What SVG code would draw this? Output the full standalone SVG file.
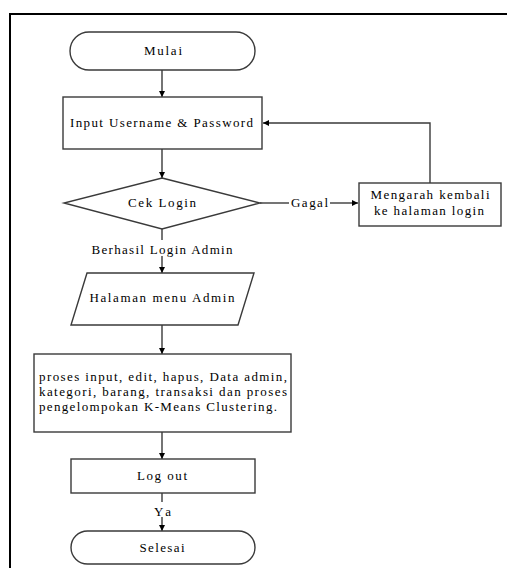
<svg xmlns="http://www.w3.org/2000/svg" width="507" height="568" viewBox="0 0 507 568">
<style>
.s{fill:#fff;stroke:#3a3a3a;stroke-width:1.4}
.c{fill:none;stroke:#3a3a3a;stroke-width:1.4}
text{font-family:"Liberation Serif","Times New Roman",serif;font-size:13px;fill:#000}
.m{text-anchor:middle}
</style>
<defs>
<marker id="ah" markerWidth="6" markerHeight="6" refX="6" refY="3" orient="auto" markerUnits="userSpaceOnUse">
<path d="M0,0 L6,3 L0,6 Z" fill="#000"/>
</marker>
</defs>
<rect width="507" height="568" fill="#fff"/>
<rect x="10" y="14" width="520" height="600" fill="none" stroke="#000" stroke-width="2"/>
<g id="connectors">
<path class="c" d="M162,70 V97" marker-end="url(#ah)"/>
<path class="c" d="M162,149 V178" marker-end="url(#ah)"/>
<path class="c" d="M260,203 H289"/>
<path class="c" d="M330,203 H358" marker-end="url(#ah)"/>
<path class="c" d="M430,183 V123 H263" marker-end="url(#ah)"/>
<path class="c" d="M162,229 V240"/>
<path class="c" d="M162,256 V273" marker-end="url(#ah)"/>
<path class="c" d="M162,325 V354" marker-end="url(#ah)"/>
<path class="c" d="M162,432 V459" marker-end="url(#ah)"/>
<path class="c" d="M162,493 V502"/>
<path class="c" d="M162,517 V531" marker-end="url(#ah)"/>
<text class="m" x="309.5" y="207" textLength="37" lengthAdjust="spacing">Gagal</text>
<text class="m" x="162" y="254" textLength="141" lengthAdjust="spacing">Berhasil Login Admin</text>
<text class="m" x="162.5" y="516" textLength="17" lengthAdjust="spacing">Ya</text>
</g>
<g id="mulai">
<rect class="s" x="70" y="32" width="185" height="38" rx="19"/>
<text class="m" x="163" y="55" textLength="38" lengthAdjust="spacing">Mulai</text>
</g>
<g id="input">
<rect class="s" x="63" y="97" width="199" height="52"/>
<text class="m" x="161.5" y="127" textLength="183" lengthAdjust="spacing">Input Username &amp; Password</text>
</g>
<g id="cek">
<polygon class="s" points="162,178 260,203 162,229 64,203"/>
<text class="m" x="162" y="207" textLength="68" lengthAdjust="spacing">Cek Login</text>
</g>
<g id="mengarah">
<rect class="s" x="359" y="183" width="142" height="43"/>
<text class="m" x="430" y="199" textLength="119" lengthAdjust="spacing">Mengarah kembali</text>
<text class="m" x="429" y="215" textLength="110" lengthAdjust="spacing">ke halaman login</text>
</g>
<g id="menu">
<polygon class="s" points="87,273 254,273 238,325 71,325"/>
<text class="m" x="162" y="302" textLength="145" lengthAdjust="spacing">Halaman menu Admin</text>
</g>
<g id="proses">
<rect class="s" x="34" y="354" width="257" height="78"/>
<text x="39" y="381" textLength="248" lengthAdjust="spacing">proses input, edit, hapus, Data admin,</text>
<text x="39" y="396" textLength="248" lengthAdjust="spacing">kategori, barang, transaksi dan proses</text>
<text x="39" y="411" textLength="238" lengthAdjust="spacing">pengelompokan K-Means Clustering.</text>
</g>
<g id="logout">
<rect class="s" x="71" y="459" width="184" height="34"/>
<text class="m" x="162" y="480" textLength="50" lengthAdjust="spacing">Log out</text>
</g>
<g id="selesai">
<rect class="s" x="71" y="531" width="184" height="33" rx="16.5"/>
<text class="m" x="162" y="552" textLength="45" lengthAdjust="spacing">Selesai</text>
</g>
</svg>
